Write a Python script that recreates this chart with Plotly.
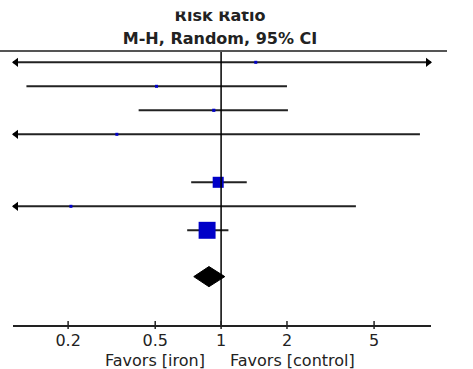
import math
import plotly.graph_objects as go

# ---- data ----
row_pos = [0, 1, 2, 3, 5, 6, 7]
risk_ratio = [1.44, 0.507, 0.926, 0.334, 0.97, 0.206, 0.863]
ci_lower = [0.03, 0.129, 0.42, 0.02, 0.73, 0.01, 0.70]
ci_upper = [60.0, 2.0, 2.02, 8.1, 1.31, 4.13, 1.08]
weights = [1.4, 1.4, 1.6, 1.2, 19.5, 1.4, 46.0]

pooled_row = 8.93
pooled_rr = 0.88
pooled_lower = 0.75
pooled_upper = 1.04

tick_vals = [0.2, 0.5, 1, 2, 5]
tick_text = ["0.2", "0.5", "1", "2", "5"]

header_lines = ["<b>Risk Ratio</b>", "<b>M-H, Random, 95% CI</b>"]
favors_left = "Favors [iron]"
favors_right = "Favors [control]"

# ---- layout constants (pixels) ----
W, H = 473, 369
AX_L, AX_R, AX_T, AX_B = 13, 431, 51, 325
PW = AX_R - AX_L
X_MIN, X_MAX = 0.112, 9.1
Y_TOP, Y_BOT = -0.471, 10.946
FONT = "DejaVu Sans"
LINE_COL = "#222222"
TEXT_COL = "#222222"
BLUE = "#0000C8"


def py(px):
    return 1 - px / H


def pxx(px):
    return px / W


fig = go.Figure()

# confidence interval lines (clipped to axis) with arrows where clipped
px_per_log = PW / (math.log10(X_MAX) - math.log10(X_MIN))
arrow_off = 10 ** (3 / px_per_log)
for y, lo, hi in zip(row_pos, ci_lower, ci_upper):
    lo_c = max(lo, X_MIN)
    hi_c = min(hi, X_MAX)
    fig.add_trace(go.Scatter(x=[lo_c, hi_c], y=[y, y], mode="lines",
                             line=dict(color=LINE_COL, width=2),
                             hoverinfo="skip", showlegend=False, cliponaxis=False))
    if lo < X_MIN:
        fig.add_trace(go.Scatter(x=[X_MIN * arrow_off], y=[y], mode="markers",
                                 marker=dict(symbol="triangle-left", size=8, color="black", opacity=1),
                                 hoverinfo="skip", showlegend=False, cliponaxis=False))
    if hi > X_MAX:
        fig.add_trace(go.Scatter(x=[X_MAX / arrow_off], y=[y], mode="markers",
                                 marker=dict(symbol="triangle-right", size=8, color="black", opacity=1),
                                 hoverinfo="skip", showlegend=False, cliponaxis=False))

# point estimates
sizes = [max(3, 2.5 * math.sqrt(w)) for w in weights]
fig.add_trace(go.Scatter(x=risk_ratio, y=row_pos, mode="markers",
                         marker=dict(symbol="square", size=sizes, color=BLUE,
                                     opacity=1, line=dict(width=0)),
                         showlegend=False, cliponaxis=False))

# pooled diamond
dh = 0.42
fig.add_trace(go.Scatter(
    x=[pooled_lower, pooled_rr, pooled_upper, pooled_rr, pooled_lower],
    y=[pooled_row, pooled_row - dh, pooled_row, pooled_row + dh, pooled_row],
    mode="lines", fill="toself", fillcolor="black",
    line=dict(color="black", width=1), showlegend=False, hoverinfo="skip"))

# header text on a full-page pixel axis (so the top of the first line can be masked)
fig.add_trace(go.Scatter(x=[220, 220], y=[17, 40], mode="text",
                         text=header_lines, textposition="middle center",
                         textfont=dict(family=FONT, size=16, color=TEXT_COL),
                         xaxis="x2", yaxis="y2",
                         showlegend=False, hoverinfo="skip", cliponaxis=False))

shapes = [
    # null line
    dict(type="line", xref="x", yref="paper", x0=1, x1=1, y0=py(AX_B), y1=py(AX_T),
         line=dict(color="black", width=1.5)),
    # header rule
    dict(type="line", xref="paper", yref="paper", x0=0, x1=pxx(447),
         y0=py(AX_T), y1=py(AX_T), line=dict(color="#555555", width=2)),
    # mask for cut-off top of the header
    dict(type="rect", xref="paper", yref="paper", x0=0, x1=1,
         y0=py(11.5), y1=1.01, fillcolor="white", line=dict(width=0), layer="above"),
]
for t in tick_vals:
    shapes.append(dict(type="line", xref="x", yref="paper", x0=t, x1=t,
                       y0=py(AX_B + 4), y1=py(AX_B - 4),
                       line=dict(color=LINE_COL, width=1.5)))

# annotation x on a log axis is given in log10 units
annotations = [
    dict(x=math.log10(1), xref="x", y=py(360), yref="paper", text=favors_left,
         xanchor="right", yanchor="middle", xshift=-14, showarrow=False,
         font=dict(family=FONT, size=16, color=TEXT_COL)),
    dict(x=math.log10(1), xref="x", y=py(360), yref="paper", text=favors_right,
         xanchor="left", yanchor="middle", xshift=7, showarrow=False,
         font=dict(family=FONT, size=16, color=TEXT_COL)),
]

fig.update_layout(
    width=W, height=H,
    margin=dict(l=0, r=0, t=0, b=0, pad=0),
    paper_bgcolor="white", plot_bgcolor="rgba(0,0,0,0)",
    shapes=shapes, annotations=annotations,
    xaxis=dict(type="log", domain=[pxx(AX_L), pxx(AX_R)],
               range=[math.log10(X_MIN), math.log10(X_MAX)],
               tickvals=tick_vals, ticktext=tick_text, ticks="",
               showline=True, linecolor=LINE_COL, linewidth=2,
               showgrid=False, zeroline=False,
               tickfont=dict(family=FONT, size=16, color=TEXT_COL)),
    yaxis=dict(domain=[py(AX_B), py(AX_T)], range=[Y_BOT, Y_TOP],
               visible=False, showgrid=False, zeroline=False),
    xaxis2=dict(domain=[0, 1], range=[0, W], visible=False, anchor="y2",
                showgrid=False, zeroline=False),
    yaxis2=dict(domain=[0, 1], range=[H, 0], visible=False, anchor="x2",
                showgrid=False, zeroline=False),
)

fig.write_html("out.html", config={"displayModeBar": False},
               post_script="document.body.style.margin='0';document.body.style.padding='0';")
